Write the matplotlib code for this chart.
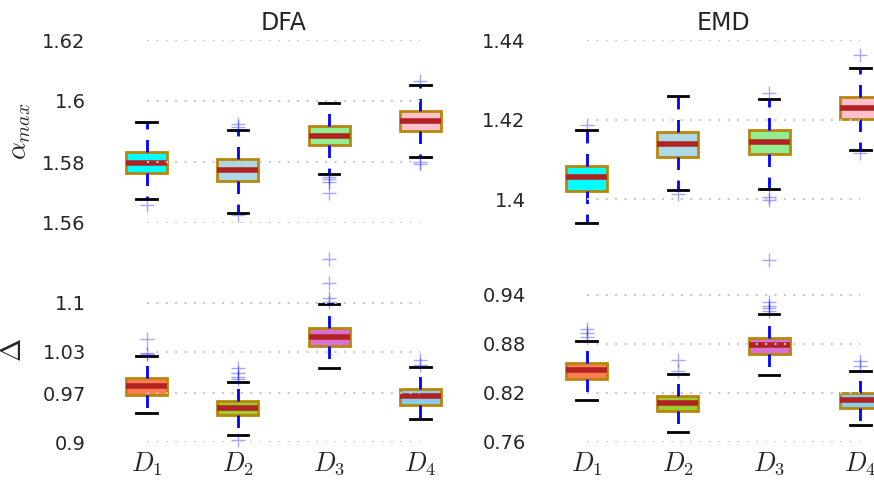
import matplotlib
matplotlib.use("Agg")
import matplotlib.pyplot as plt

plt.rcParams['mathtext.fontset'] = 'cm'
plt.rcParams['font.family'] = ['DejaVu Sans']

#region ---- data ----
groups = [r'$D_1$', r'$D_2$', r'$D_3$', r'$D_4$']
titles = ['DFA', 'EMD']
row_labels = [r'$\alpha_{max}$', r'$\Delta$']

# each box: whislo, q1, med, q3, whishi
dfa_alpha_box = [
    [1.5679, 1.5763, 1.5798, 1.5834, 1.5932],
    [1.5634, 1.5737, 1.5774, 1.5809, 1.5905],
    [1.5760, 1.5855, 1.5884, 1.5919, 1.5992],
    [1.5817, 1.5903, 1.5933, 1.5967, 1.6052],
]
dfa_alpha_fliers = [[1.5659], [1.5925, 1.5916, 1.5626],
                    [1.5752, 1.5744, 1.5735, 1.5697], [1.6066, 1.5801, 1.5792]]

emd_alpha_box = [
    [1.3940, 1.4021, 1.4055, 1.4083, 1.4174],
    [1.4024, 1.4106, 1.4138, 1.4168, 1.4260],
    [1.4025, 1.4113, 1.4143, 1.4174, 1.4252],
    [1.4123, 1.4201, 1.4228, 1.4257, 1.4329],
]
emd_alpha_fliers = [[1.4186], [1.4014], [1.4266, 1.4006, 1.3997], [1.4362, 1.4115]]

dfa_delta_box = [
    [0.9422, 0.9676, 0.9801, 0.9916, 1.0237],
    [0.9105, 0.9388, 0.9494, 0.9590, 0.9863],
    [1.0069, 1.0381, 1.0515, 1.0636, 1.0981],
    [0.9331, 0.9537, 0.9662, 0.9762, 1.0079],
]
dfa_delta_fliers = [[1.0482, 1.0285, 1.0265],
                    [1.0060, 0.9997, 0.9940, 0.9900, 0.9029],
                    [1.1629, 1.1283, 1.1067, 1.1019],
                    [1.0180, 1.0108]]

emd_delta_box = [
    [0.8118, 0.8375, 0.8478, 0.8571, 0.8841],
    [0.7726, 0.7980, 0.8074, 0.8167, 0.8433],
    [0.8420, 0.8682, 0.8788, 0.8877, 0.9167],
    [0.7804, 0.8013, 0.8114, 0.8196, 0.8469],
]
emd_delta_fliers = [[0.8980, 0.8931, 0.8890], [0.8604, 0.8469],
                    [0.9829, 0.9318, 0.9265, 0.9237, 0.9200], [0.8592, 0.8531]]

top_colors = ['cyan', 'lightblue', 'lightgreen', 'pink']
bottom_colors = ['coral', 'yellowgreen', 'orchid', 'skyblue']

yticks = [
    [1.56, 1.58, 1.60, 1.62],
    [1.40, 1.42, 1.44],
    [0.90, 0.97, 1.03, 1.10],
    [0.76, 0.82, 0.88, 0.94],
]
ytick_labels = [
    ['1.56', '1.58', '1.6', '1.62'],
    ['1.4', '1.42', '1.44'],
    ['0.9', '0.97', '1.03', '1.1'],
    ['0.76', '0.82', '0.88', '0.94'],
]
ylims = [(1.56, 1.62), (1.394, 1.44), (0.90, 1.163), (0.76, 0.984)]
#endregion

TEXT = '#262626'
W, H = 874, 480


def px_axes(x0, y0, x1, y1):
    return [x0 / W, 1 - y1 / H, (x1 - x0) / W, (y1 - y0) / H]


fig = plt.figure(figsize=(W / 100, H / 100), dpi=100)
fig.patch.set_facecolor('white')

panels = [
    (dfa_alpha_box, dfa_alpha_fliers, top_colors, px_axes(101, 40, 466, 223)),
    (emd_alpha_box, emd_alpha_fliers, top_colors, px_axes(541, 40, 906, 223)),
    (dfa_delta_box, dfa_delta_fliers, bottom_colors, px_axes(101, 259, 466, 442)),
    (emd_delta_box, emd_delta_fliers, bottom_colors, px_axes(541, 259, 906, 442)),
]

for i, (boxes, fliers, colors, rect) in enumerate(panels):
    ax = fig.add_axes(rect)
    stats = []
    for b, f in zip(boxes, fliers):
        stats.append(dict(whislo=b[0], q1=b[1], med=b[2], q3=b[3], whishi=b[4], fliers=f))
    bp = ax.bxp(stats, positions=[1, 2, 3, 4], widths=0.45, patch_artist=True,
                boxprops=dict(edgecolor='darkgoldenrod', linewidth=2),
                medianprops=dict(color='firebrick', linewidth=4),
                whiskerprops=dict(color='blue', linewidth=2, linestyle=(0, (4.5, 3.8))),
                capprops=dict(color='black', linewidth=2),
                flierprops=dict(marker='+', markeredgecolor='blue', alpha=0.35,
                                markersize=10, linestyle='none'))
    for patch, c in zip(bp['boxes'], colors):
        patch.set_facecolor(c)
    for artist_list in bp.values():
        for a in artist_list:
            a.set_clip_on(False)

    # dotted guide lines, drawn over the boxes
    ax.hlines(yticks[i], 1, 4, colors='#c8c8c8', linestyles=(0, (1, 3.5)),
              linewidth=1.5, zorder=10)

    ax.set_xlim(0.5, 4.5)
    ax.set_ylim(*ylims[i])
    ax.set_yticks(yticks[i])
    ax.set_yticklabels(ytick_labels[i])
    ax.tick_params(axis='both', length=0, labelsize=14, labelcolor=TEXT)
    ax.tick_params(axis='y', pad=11)
    ax.tick_params(axis='x', pad=6, labelsize=19)
    ax.set_xticks([1, 2, 3, 4])
    if i >= 2:
        ax.set_xticklabels(groups)
    else:
        ax.set_xticklabels([])
        ax.set_title(titles[i], fontsize=17, color=TEXT, pad=7)
    for s in ax.spines.values():
        s.set_visible(False)
    ax.set_facecolor('none')
    if i % 2 == 0:
        ax.set_ylabel(row_labels[i // 2], fontsize=20, color=TEXT)
        ax.yaxis.set_label_coords(-0.187 if i == 0 else -0.203, 0.5)

fig.savefig('out.png', dpi=100)
